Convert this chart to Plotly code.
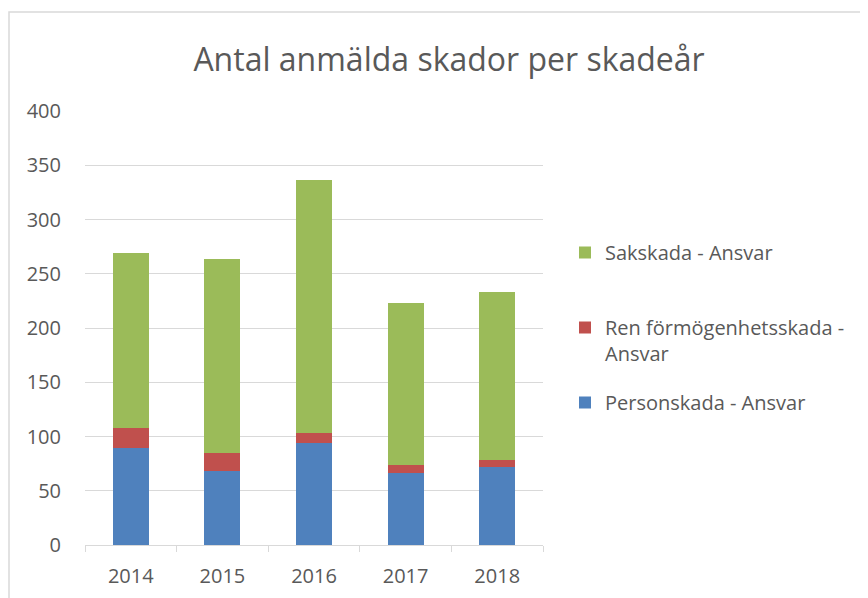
import plotly.graph_objects as go

years = ["2014", "2015", "2016", "2017", "2018"]
person = [89, 68, 94, 66, 72]
ren = [19, 17, 9, 8, 6]
sak = [161, 179, 233, 149, 155]

y_ticks = [0, 50, 100, 150, 200, 250, 300, 350, 400]

names = ["Personskada - Ansvar", "Ren förmögenhetsskada -<br>Ansvar", "Sakskada - Ansvar<br> "]
colors = ["#4F81BD", "#C0504D", "#9BBB59"]
series = [person, ren, sak]
ranks = [3, 2, 1]

fig = go.Figure()
for i, (n, c, s, r) in enumerate(zip(names, colors, series, ranks)):
    fig.add_trace(go.Bar(x=years, y=s, name=n, marker=dict(color=c, line=dict(width=0)),
                         legendgroup=str(i), legendrank=r))

# page has an 8px body margin; work in page pixels and convert
OFF = 8
W, H = 860, 590
L, R, T, B = 85 - OFF, W - (543 - OFF), 111 - OFF, H - (545 - OFF)
pw, ph = W - L - R, H - T - B

def px(x):
    return (x - OFF - L) / pw

def py(y):
    return (H - B - (y - OFF)) / ph

fig.update_layout(
    width=W, height=H,
    margin=dict(l=L, r=R, t=T, b=B, autoexpand=False),
    barmode="stack",
    bargap=0.607,
    paper_bgcolor="white",
    plot_bgcolor="white",
    font=dict(family="Open Sans, Noto Sans, sans-serif", color="#595959"),
    title=dict(text="Antal anmälda skador per skadeår", x=(449 - OFF) / W, xanchor="center",
               xref="container", yref="container", y=1 - (60 - OFF) / H, yanchor="middle",
               font=dict(size=32, color="#595959")),
    legend=dict(x=px(565), xanchor="left", y=py(233), yanchor="top",
                traceorder="grouped", tracegroupgap=20, valign="top",
                font=dict(size=20, color="#595959"), itemwidth=30,
                bgcolor="rgba(0,0,0,0)"),
    xaxis=dict(showgrid=False, showline=True, linecolor="#D9D9D9", linewidth=1,
               ticks="outside", tickson="boundaries", ticklen=6, tickcolor="#D9D9D9",
               ticklabelstandoff=13,
               tickfont=dict(size=20, color="#595959")),
    yaxis=dict(range=[0, 400], tickvals=y_ticks, showgrid=True, gridcolor="#D9D9D9",
               gridwidth=1, zeroline=False, showline=False, ticks="",
               ticklabelstandoff=23,
               tickfont=dict(size=20, color="#595959")),
    shapes=[dict(type="rect", xref="paper", yref="paper",
                 x0=px(9), x1=px(880), y0=py(610), y1=py(12),
                 line=dict(color="#D9D9D9", width=1.5), fillcolor="rgba(0,0,0,0)",
                 layer="below")],
)

fig.write_html("out.html")
